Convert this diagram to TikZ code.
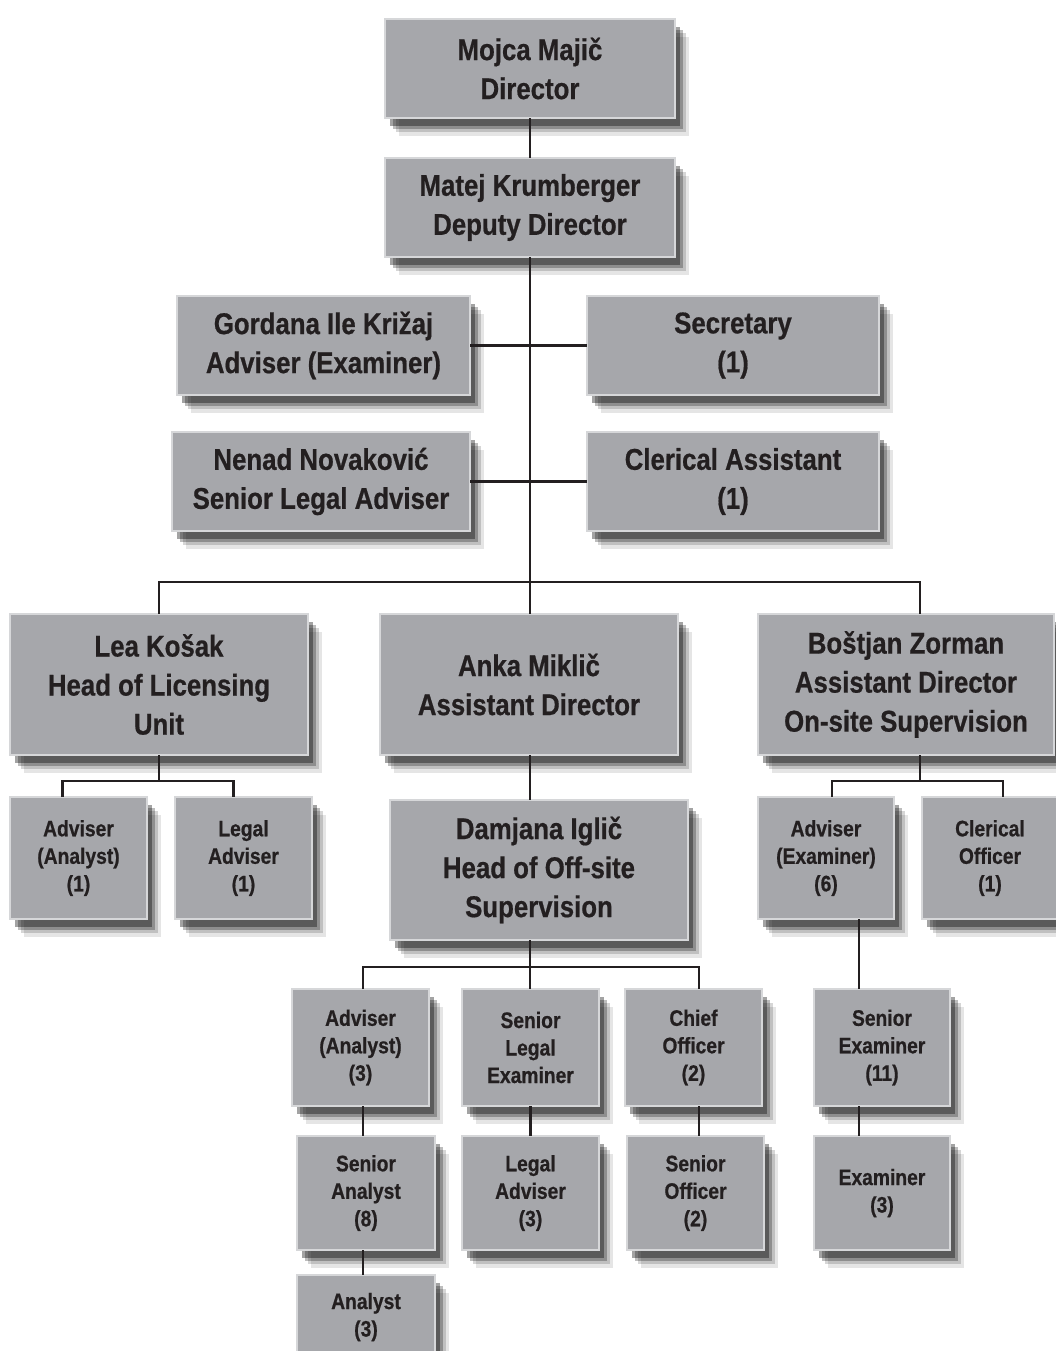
\documentclass[tikz,border=0pt]{standalone}
\usepackage{fontspec}
\setmainfont{Liberation Sans}[FakeStretch=0.86,BoldFeatures={FakeBold=0.6}]
\usetikzlibrary{shadows}

\definecolor{boxgray}{RGB}{166,167,171}
\definecolor{boxedge}{RGB}{214,215,217}
\definecolor{inkdark}{RGB}{35,31,32}

\tikzset{
  post/.style={draw=boxedge,line width=1pt,fill=boxgray,text=inkdark,align=center,
    inner sep=0pt,outer sep=0pt,
    drop shadow={fill=black,opacity=0.10,shadow xshift=7pt,shadow yshift=-9pt},
    drop shadow={fill=black,opacity=0.16,shadow xshift=5.5pt,shadow yshift=-7pt},
    drop shadow={fill=black,opacity=0.26,shadow xshift=4pt,shadow yshift=-5.5pt},
    drop shadow={fill=black,opacity=0.36,shadow xshift=2.5pt,shadow yshift=-4pt}},
  big/.style={post,font=\bfseries\fontsize{15}{19.5}\selectfont},
  small/.style={post,font=\bfseries\fontsize{11.2}{13.75}\selectfont},
  link/.style={line width=1.2pt,draw=inkdark}
}

\begin{document}
\begin{tikzpicture}[x=0.5pt,y=-0.5pt]
\useasboundingbox (0,0) rectangle (1056,1351);
\clip (0,0) rectangle (1056,1351);
\fill[white] (0,0) rectangle (1056,1351);

\node[big,minimum width=145pt,minimum height=49.5pt] (dir) at (530,68.5) {Mojca Majič\\Director};
\node[big,minimum width=145pt,minimum height=49.5pt] (dep) at (530,207.5) {Matej Krumberger\\Deputy Director};

\node[big,minimum width=146.5pt,minimum height=49.5pt] (gordana) at (323.5,345.5) {Gordana Ile Križaj\\Adviser (Examiner)};
\node[big,minimum width=146pt,minimum height=49.5pt] (secr) at (733,345.5) {Secretary\\(1)};
\node[big,minimum width=149pt,minimum height=49.5pt] (nenad) at (321,481.5) {Nenad Novaković\\Senior Legal Adviser};
\node[big,minimum width=146pt,minimum height=49.5pt] (clerasst) at (733,481.5) {Clerical Assistant\\(1)};

\node[big,minimum width=149pt,minimum height=70.5pt] (lea) at (159,684.5) {Lea Košak\\Head of Licensing\\Unit};
\node[big,minimum width=149pt,minimum height=70.5pt] (anka) at (529,684.5) {Anka Miklič\\Assistant Director};
\node[big,minimum width=148pt,minimum height=70.5pt] (bostjan) at (906,684.5) {Boštjan Zorman\\Assistant Director\\On-site Supervision};

\node[small,minimum width=68.5pt,minimum height=61pt] (advA1) at (78.5,858) {Adviser\\(Analyst)\\(1)};
\node[small,minimum width=68.5pt,minimum height=61pt] (legal1) at (243.5,858) {Legal\\Adviser\\(1)};
\node[small,minimum width=68pt,minimum height=61pt] (advE6) at (826,858) {Adviser\\(Examiner)\\(6)};
\node[small,minimum width=68pt,minimum height=61pt] (clerOff) at (990,858) {Clerical\\Officer\\(1)};

\node[big,minimum width=149pt,minimum height=70pt] (damjana) at (539,870) {Damjana Iglič\\Head of Off-site\\Supervision};

\node[small,minimum width=68.5pt,minimum height=58.5pt] (advA3) at (360.5,1047.5) {Adviser\\(Analyst)\\(3)};
\node[small,minimum width=68.5pt,minimum height=58.5pt] (senLegEx) at (530.5,1047.5) {Senior\\Legal\\Examiner};
\node[small,minimum width=68.5pt,minimum height=58.5pt] (chief) at (693.5,1047.5) {Chief\\Officer\\(2)};
\node[small,minimum width=68pt,minimum height=58.5pt] (senExam) at (882,1047.5) {Senior\\Examiner\\(11)};

\node[small,minimum width=69pt,minimum height=57pt] (senAnal) at (366,1193) {Senior\\Analyst\\(8)};
\node[small,minimum width=68.5pt,minimum height=57pt] (legAdv3) at (530.5,1193) {Legal\\Adviser\\(3)};
\node[small,minimum width=68.5pt,minimum height=57pt] (senOff) at (695.5,1193) {Senior\\Officer\\(2)};
\node[small,minimum width=68pt,minimum height=57pt] (examiner) at (882,1193) {Examiner\\(3)};
\node[small,minimum width=69pt,minimum height=42pt] (analyst) at (366,1317) {Analyst\\(3)};

% junctions
\coordinate (mainbus) at (530,582);
\coordinate (leabus) at (159,781);
\coordinate (bosbus) at (920,781);
\coordinate (dambus) at (530,967);

\draw[link] (dir.south) -- (dep.north);
\draw[link] (dep.south) -- (mainbus);
\draw[link] (gordana.east) -- (secr.west);
\draw[link] (nenad.east) -- (clerasst.west);
\draw[link] (lea.north) |- (mainbus) -| ([xshift=7pt]bostjan.north);
\draw[link] (mainbus) -- (mainbus |- anka.north);

\draw[link] (lea.south) -- (leabus);
\draw[link] ([xshift=-8pt]advA1.north) |- (leabus) -| ([xshift=-5pt]legal1.north);

\draw[link] ([xshift=7pt]bostjan.south) -- (bosbus);
\draw[link] ([xshift=3pt]advE6.north) |- (bosbus) -| ([xshift=6.5pt]clerOff.north);
\draw[link] ([xshift=16.5pt]advE6.south) -- ([xshift=-11.5pt]senExam.north);
\draw[link] ([xshift=-11.5pt]senExam.south) -- ([xshift=-11.5pt]examiner.north);

\draw[link] (mainbus |- anka.south) -- (mainbus |- damjana.north);
\draw[link] (dambus |- damjana.south) -- (dambus);
\draw[link] ([xshift=1.25pt]advA3.north) |- (dambus) -| ([xshift=2.75pt]chief.north);
\draw[link] (dambus) -- (dambus |- senLegEx.north);

\draw[link] ([xshift=1.25pt]advA3.south) -- ([xshift=-1.5pt]senAnal.north);
\draw[link] ([xshift=-1.5pt]senAnal.south) -- ([xshift=-1.5pt]analyst.north);
\draw[link] (senLegEx.south) -- (legAdv3.north);
\draw[link] ([xshift=2.75pt]chief.south) -- ([xshift=1.75pt]senOff.north);
\end{tikzpicture}
\end{document}
